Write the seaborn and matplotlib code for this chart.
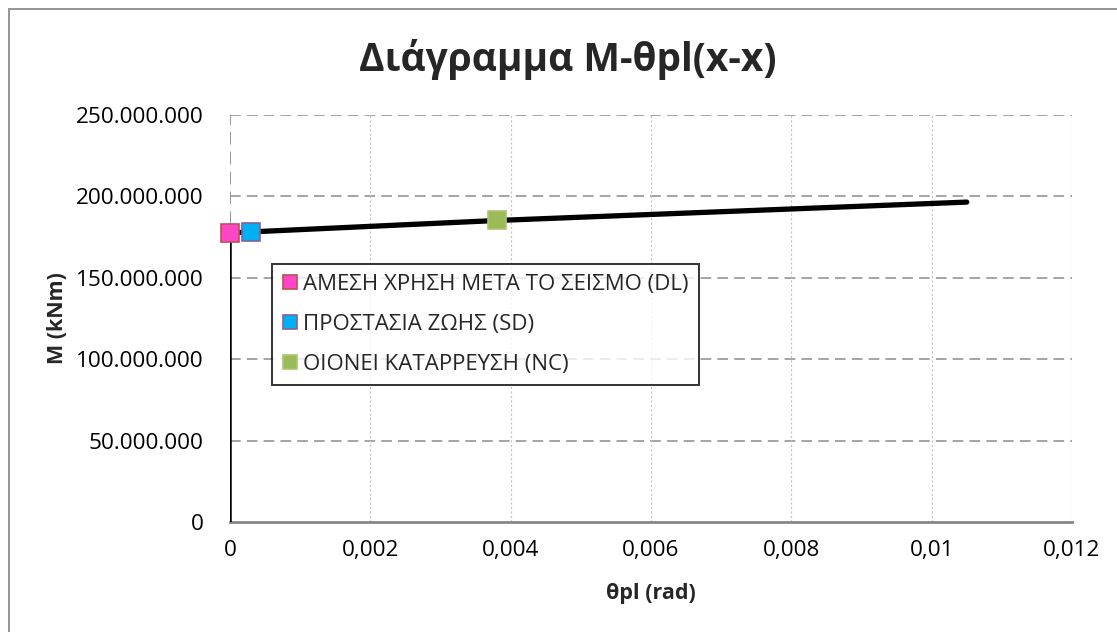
import matplotlib
matplotlib.use("Agg")
import matplotlib.pyplot as plt
from matplotlib.ticker import FuncFormatter, MultipleLocator
from matplotlib.lines import Line2D
from matplotlib.patches import Rectangle
import seaborn as sns
import pandas as pd

# Elastic branch (vertical) and plastic branch of the moment-rotation curve
elastic_theta = [0.0, 0.0]
elastic_M = [0.0, 177_500_000]
plastic_theta = [0.0, 0.0003, 0.0038, 0.0105]
plastic_M = [177_500_000, 178_200_000, 185_200_000, 196_500_000]

# Performance levels
levels = ["ΑΜΕΣΗ ΧΡΗΣΗ ΜΕΤΑ ΤΟ ΣΕΙΣΜΟ (DL)", "ΠΡΟΣΤΑΣΙΑ ΖΩΗΣ (SD)", "ΟΙΟΝΕΙ ΚΑΤΑΡΡΕΥΣΗ (NC)"]
level_theta = [0.0, 0.0003, 0.0038]
level_M = [177_500_000, 178_200_000, 185_200_000]
face_colors = ["#FF45C8", "#00B0F0", "#9BBB59"]
edge_colors = ["#C0504D", "#8064A2", "#A9C86F"]

x_ticks = [0, 0.002, 0.004, 0.006, 0.008, 0.01, 0.012]
y_ticks = [0, 50_000_000, 100_000_000, 150_000_000, 200_000_000, 250_000_000]

sns.set_theme(style="white")
plt.rcParams["font.family"] = ["Open Sans", "DejaVu Sans"]

W, H = 1117, 632
fig = plt.figure(figsize=(W / 100, H / 100), dpi=100)
fig.patch.set_facecolor("white")

# outer chart-area frame
fig.add_artist(Rectangle((9 / W, -0.05), 1.2, 1 - 9 / H + 0.05, transform=fig.transFigure,
                         fill=False, edgecolor="#8C8C8C", linewidth=1.3))

ax = fig.add_axes([230 / W, (H - 522) / H, 842 / W, 407 / H])
ax.set_xlim(0, 0.012)
ax.set_ylim(0, 250_000_000)

# gridlines
for yv in y_ticks[1:]:
    ax.axhline(yv, color="#8C8C8C", lw=1.1, ls=(0, (7, 4)), zorder=1)
for xv in x_ticks[1:]:
    ax.axvline(xv, color="#C4C4C4", lw=0.8, ls=(0, (2, 2)), zorder=1)
ax.axvline(0, color="#8C8C8C", lw=1.3, ls=(0, (7, 4)), zorder=1)

for s in ["top", "right", "left"]:
    ax.spines[s].set_visible(False)
ax.spines["bottom"].set_color("#868686")
ax.spines["bottom"].set_linewidth(2)

el = pd.DataFrame({"theta": elastic_theta, "M": elastic_M})
pl = pd.DataFrame({"theta": plastic_theta, "M": plastic_M})
sns.lineplot(data=el, x="theta", y="M", ax=ax, color="black", lw=1.8, sort=False,
             estimator=None, zorder=3)
sns.lineplot(data=pl, x="theta", y="M", ax=ax, color="black", lw=3.8, sort=False,
             estimator=None, zorder=3, solid_capstyle="round")

for i in range(len(levels)):
    ax.plot([level_theta[i]], [level_M[i]], marker="s", ms=13, mfc=face_colors[i],
            mec=edge_colors[i], mew=1.2, ls="none", zorder=5, clip_on=False)

ax.xaxis.set_major_locator(MultipleLocator(0.002))
ax.yaxis.set_major_locator(MultipleLocator(50_000_000))
ax.xaxis.set_major_formatter(FuncFormatter(lambda v, p: "0" if abs(v) < 1e-12 else f"{v:g}".replace(".", ",")))
ax.yaxis.set_major_formatter(FuncFormatter(lambda v, p: f"{int(round(v)):,}".replace(",", ".")))
ax.tick_params(axis="both", length=0, labelsize=16.2, colors="black")
ax.tick_params(axis="x", pad=13)
ax.tick_params(axis="y", pad=19)

ax.set_xlabel("θpl (rad)", fontsize=15.5, fontweight="bold", labelpad=16)
ax.set_ylabel("M (kNm)", fontsize=15.5, fontweight="bold", labelpad=6)

fig.text(568 / W, 1 - 60 / H, "Διάγραμμα M-θpl(x-x)", ha="center", va="center",
         fontsize=28, fontweight="bold")

handles = [Line2D([], [], marker="s", ms=10.5, mfc=face_colors[i], mec=edge_colors[i], mew=1.2,
                  ls="none") for i in range(len(levels))]
leg = fig.legend(handles, levels, loc="upper left", bbox_to_anchor=(272 / W, 1 - 264 / H),
                 frameon=True, fancybox=False, fontsize=16, handlelength=0.7,
                 handletextpad=0.25, borderpad=0.45, labelspacing=0.85, borderaxespad=0)
leg.get_frame().set_edgecolor("black")
leg.get_frame().set_linewidth(1.4)

fig.savefig("out.png", dpi=100)
